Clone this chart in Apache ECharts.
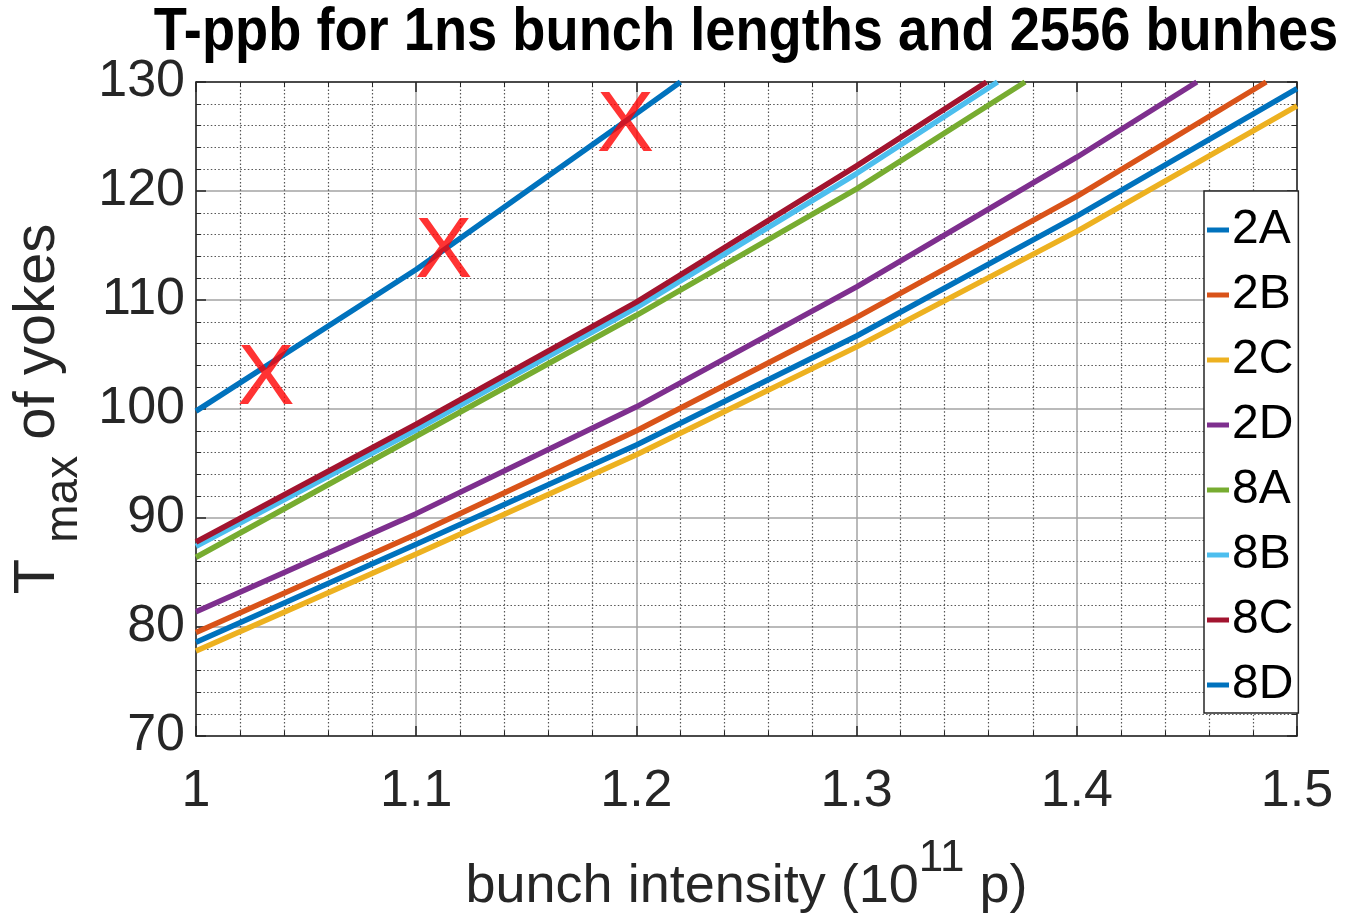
<!DOCTYPE html>
<html>
<head>
<meta charset="utf-8">
<title>T-ppb for 1ns bunch lengths and 2556 bunhes</title>
<script src="https://cdn.jsdelivr.net/npm/echarts@6/dist/echarts.min.js"></script>
<style>
  html, body { margin: 0; padding: 0; background: #fff; }
  #chart { width: 1358px; height: 916px; }
</style>
</head>
<body>
<div id="chart"></div>
<script>
// Peak yoke temperature versus bunch intensity, one curve per configuration.
// Each curve is a list of [intensity (1e11 p), Tmax] pairs.
const seriesNames = ['2A', '2B', '2C', '2D', '8A', '8B', '8C', '8D'];

const t2A = [[1.0, 99.8], [1.1, 112.8], [1.2, 127.1], [1.22, 130.0]];
const t2B = [[1.0, 79.5], [1.1, 88.5], [1.2, 98.0], [1.3, 108.4], [1.4, 119.5], [1.486, 130.0]];
const t2C = [[1.0, 77.8], [1.1, 86.7], [1.2, 95.8], [1.3, 105.7], [1.4, 116.3], [1.5, 127.8]];
const t2D = [[1.0, 81.4], [1.1, 90.4], [1.2, 100.2], [1.3, 111.2], [1.4, 123.1], [1.4545, 130.0]];
const t8A = [[1.0, 86.4], [1.1, 97.5], [1.2, 108.6], [1.3, 120.2], [1.3765, 130.0]];
const t8B = [[1.0, 87.4], [1.1, 98.1], [1.2, 109.3], [1.3, 121.6], [1.364, 130.0]];
const t8C = [[1.0, 87.8], [1.1, 98.6], [1.2, 109.8], [1.3, 122.3], [1.359, 130.0]];
const t8D = [[1.0, 78.6], [1.1, 87.6], [1.2, 96.7], [1.3, 106.7], [1.4, 117.7], [1.5, 129.4]];

// Operating points marked with a red X on the 2A curve
const crossPoints = [[1.0318, 102.6], [1.1125, 114.3], [1.195, 125.8]];

// Axis ranges and ticks
const xRange = { min: 1.0, max: 1.5, step: 0.1 };
const yRange = { min: 70, max: 130, step: 10 };

const lineColors = ['#0072BD', '#D95319', '#EDB120', '#7E2F8E', '#77AC30', '#4DBEEE', '#A2142F', '#0072BD'];
const curves = [t2A, t2B, t2C, t2D, t8A, t8B, t8C, t8D];

const FONT = '"Liberation Sans", Arial, Helvetica, sans-serif';
const AXIS_COLOR = '#262626';

const chart = echarts.init(document.getElementById('chart'), null, { renderer: 'canvas' });

const baseAxis = {
  axisLine: { show: true, onZero: false, lineStyle: { color: AXIS_COLOR, width: 1.5 } },
  axisTick: { show: true, inside: true, length: 10, lineStyle: { color: AXIS_COLOR, width: 1.5 } },
  minorTick: { show: true, splitNumber: 5, length: 5, lineStyle: { color: AXIS_COLOR, width: 1 } },
  splitLine: { show: true, lineStyle: { color: '#a3a3a3', width: 1.5 } },
  minorSplitLine: { show: true, lineStyle: { color: '#555555', width: 1.2, type: [1.5, 2.2] } }
};

const mirrorAxis = {
  axisLine: { show: true, onZero: false, lineStyle: { color: AXIS_COLOR, width: 1.5 } },
  axisTick: { show: true, inside: true, length: 10, lineStyle: { color: AXIS_COLOR, width: 1.5 } },
  minorTick: { show: true, splitNumber: 5, length: 5, lineStyle: { color: AXIS_COLOR, width: 1 } },
  axisLabel: { show: false },
  splitLine: { show: false },
  minorSplitLine: { show: false }
};

const option = {
  animation: false,
  backgroundColor: '#ffffff',
  textStyle: { fontFamily: FONT },
  grid: { left: 196, top: 82, right: 61, bottom: 180, containLabel: false, outerBoundsMode: 'none' },
  graphic: [
    {
      type: 'text',
      x: 746,
      y: 33,
      scaleX: 0.875,
      style: {
        text: 'T-ppb for 1ns bunch lengths and 2556 bunhes',
        font: 'bold 62px ' + FONT,
        fill: '#000',
        textAlign: 'center',
        textVerticalAlign: 'middle'
      }
    }
  ],
  xAxis: [
    Object.assign({}, baseAxis, {
      type: 'value',
      position: 'bottom',
      min: xRange.min, max: xRange.max, interval: xRange.step,
      axisLabel: {
        fontSize: 52, color: AXIS_COLOR, margin: 30, fontFamily: FONT,
        formatter: v => String(Math.round(v * 10) / 10)
      },
      name: '{m|bunch intensity (10}{sup|11}{m| p)}',
      nameLocation: 'middle',
      nameGap: 101,
      nameTextStyle: {
        fontFamily: FONT,
        fontSize: 54,
        color: AXIS_COLOR,
        rich: {
          m: { fontSize: 54, lineHeight: 77, verticalAlign: 'bottom', color: AXIS_COLOR, fontFamily: FONT },
          sup: { fontSize: 44, lineHeight: 46, verticalAlign: 'top', color: AXIS_COLOR, fontFamily: FONT }
        }
      }
    }),
    Object.assign({}, mirrorAxis, {
      type: 'value',
      position: 'top',
      min: xRange.min, max: xRange.max, interval: xRange.step
    })
  ],
  yAxis: [
    Object.assign({}, baseAxis, {
      type: 'value',
      position: 'left',
      min: yRange.min, max: yRange.max, interval: yRange.step,
      axisLabel: { fontSize: 52, color: AXIS_COLOR, margin: 11, fontFamily: FONT },
      name: '{t|T }{s|max}{t| of yokes}',
      nameLocation: 'middle',
      nameRotate: 90,
      nameGap: 86,
      nameTextStyle: {
        fontFamily: FONT,
        color: AXIS_COLOR,
        rich: {
          t: { fontSize: 58, lineHeight: 78, verticalAlign: 'top', color: AXIS_COLOR, fontFamily: FONT },
          s: { fontSize: 46, lineHeight: 46, verticalAlign: 'bottom', color: AXIS_COLOR, fontFamily: FONT }
        }
      }
    }),
    Object.assign({}, mirrorAxis, {
      type: 'value',
      position: 'right',
      min: yRange.min, max: yRange.max, interval: yRange.step
    })
  ],
  legend: {
    data: seriesNames,
    orient: 'vertical',
    left: 1204,
    top: 191,
    icon: 'rect',
    itemWidth: 22,
    itemHeight: 5,
    itemGap: 17,
    padding: [15, 5, 4, 3],
    borderColor: AXIS_COLOR,
    borderWidth: 1.5,
    backgroundColor: '#ffffff',
    textStyle: { fontSize: 48, color: '#000', fontFamily: FONT, padding: [0, 0, 0, -2] },
    selectedMode: false
  },
  series: curves.map((data, i) => ({
    name: seriesNames[i],
    type: 'line',
    data: data,
    xAxisIndex: 0,
    yAxisIndex: 0,
    showSymbol: false,
    symbol: 'none',
    smooth: false,
    clip: true,
    lineStyle: { color: lineColors[i], width: 5.5 },
    itemStyle: { color: lineColors[i] },
    z: 3 + i
  })).concat([{
    name: 'marks',
    type: 'scatter',
    data: crossPoints,
    xAxisIndex: 0,
    yAxisIndex: 0,
    symbolSize: 2,
    itemStyle: { color: 'rgba(255,0,0,0)' },
    label: {
      show: true,
      position: 'inside',
      formatter: 'X',
      fontSize: 86,
      color: '#ff0000',
      fontFamily: FONT
    },
    labelLayout: { hideOverlap: false },
    z: 20
  }])
};

chart.setOption(option);
</script>
</body>
</html>
